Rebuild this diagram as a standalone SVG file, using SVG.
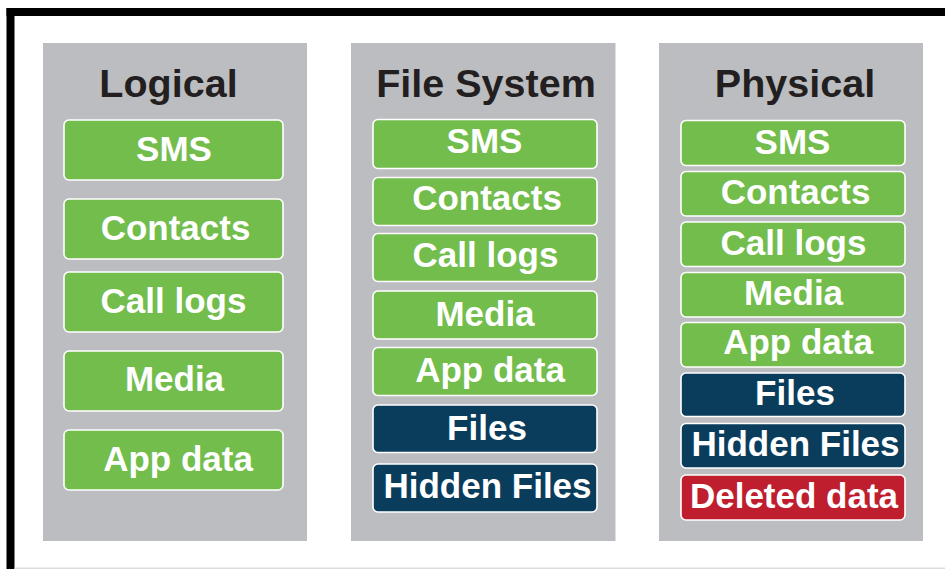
<svg xmlns="http://www.w3.org/2000/svg" width="945" height="569" viewBox="0 0 945 569">
<style>
.panel{fill:#bcbdc0}
.box{stroke:#ffffff;stroke-width:1.6}
.g{fill:#72bd4c}
.n{fill:#0a3d5c}
.r{fill:#be1e2d}
.title{font-family:"Liberation Sans",Arial,sans-serif;font-weight:bold;font-size:39.5px;fill:#231f20;text-anchor:middle}
.lbl{font-family:"Liberation Sans",Arial,sans-serif;font-weight:bold;font-size:35px;fill:#ffffff;text-anchor:middle}
</style>
<rect x="0" y="0" width="945" height="569" fill="#ffffff"/>
<g id="frame">
<rect x="6.5" y="8" width="8" height="561" fill="#000000"/>
<rect x="6.5" y="8" width="938.5" height="8" fill="#000000"/>
<rect x="14.5" y="567.5" width="930.5" height="1.5" fill="#dcdcdc"/>
</g>
<g id="logical">
<rect class="panel" x="43" y="43" width="264" height="498"/>
<text class="title" x="168.5" y="97">Logical</text>
<g id="l-sms"><rect class="box g" x="64" y="120" width="219" height="60" rx="5"/><text class="lbl" x="174" y="160.5">SMS</text></g>
<g id="l-contacts"><rect class="box g" x="64" y="199" width="219" height="60" rx="5"/><text class="lbl" x="175.5" y="240">Contacts</text></g>
<g id="l-calllogs"><rect class="box g" x="64" y="272" width="219" height="60" rx="5"/><text class="lbl" x="173.5" y="312.5">Call logs</text></g>
<g id="l-media"><rect class="box g" x="64" y="351" width="219" height="60" rx="5"/><text class="lbl" x="174.5" y="391">Media</text></g>
<g id="l-appdata"><rect class="box g" x="64" y="430" width="219" height="60" rx="5"/><text class="lbl" x="178" y="470.5">App data</text></g>
</g>
<g id="filesystem">
<rect class="panel" x="351" y="43" width="264.5" height="498"/>
<text class="title" x="486" y="97">File System</text>
<g id="f-sms"><rect class="box g" x="373" y="119.5" width="224" height="49" rx="5"/><text class="lbl" x="484.5" y="153">SMS</text></g>
<g id="f-contacts"><rect class="box g" x="373" y="177.5" width="224" height="48" rx="5"/><text class="lbl" x="487" y="210">Contacts</text></g>
<g id="f-calllogs"><rect class="box g" x="373" y="233.5" width="224" height="48" rx="5"/><text class="lbl" x="485.5" y="266.5">Call logs</text></g>
<g id="f-media"><rect class="box g" x="373" y="291" width="224" height="48" rx="5"/><text class="lbl" x="485" y="325.5">Media</text></g>
<g id="f-appdata"><rect class="box g" x="373" y="347.5" width="224" height="48" rx="5"/><text class="lbl" x="490" y="382">App data</text></g>
<g id="f-files"><rect class="box n" x="373" y="405" width="224" height="47.5" rx="5"/><text class="lbl" x="487" y="440">Files</text></g>
<g id="f-hidden"><rect class="box n" x="373" y="464" width="224" height="48" rx="5"/><text class="lbl" x="487.5" y="497.5">Hidden Files</text></g>
</g>
<g id="physical">
<rect class="panel" x="659" y="43" width="264" height="498"/>
<text class="title" x="795" y="97">Physical</text>
<g id="p-sms"><rect class="box g" x="681" y="120.5" width="224" height="45" rx="5"/><text class="lbl" x="792.5" y="154">SMS</text></g>
<g id="p-contacts"><rect class="box g" x="681" y="171.5" width="224" height="44.5" rx="5"/><text class="lbl" x="795.5" y="203.5">Contacts</text></g>
<g id="p-calllogs"><rect class="box g" x="681" y="222" width="224" height="44.5" rx="5"/><text class="lbl" x="793.5" y="254.5">Call logs</text></g>
<g id="p-media"><rect class="box g" x="681" y="272.5" width="224" height="44.5" rx="5"/><text class="lbl" x="793.5" y="304.5">Media</text></g>
<g id="p-appdata"><rect class="box g" x="681" y="322.5" width="224" height="44.5" rx="5"/><text class="lbl" x="798" y="354">App data</text></g>
<g id="p-files"><rect class="box n" x="681" y="373" width="224" height="43.5" rx="5"/><text class="lbl" x="795" y="405">Files</text></g>
<g id="p-hidden"><rect class="box n" x="681" y="423.5" width="224" height="44.5" rx="5"/><text class="lbl" x="795.5" y="456">Hidden Files</text></g>
<g id="p-deleted"><rect class="box r" x="681" y="475" width="224" height="45" rx="5"/><text class="lbl" x="794" y="507.5">Deleted data</text></g>
</g>
</svg>
